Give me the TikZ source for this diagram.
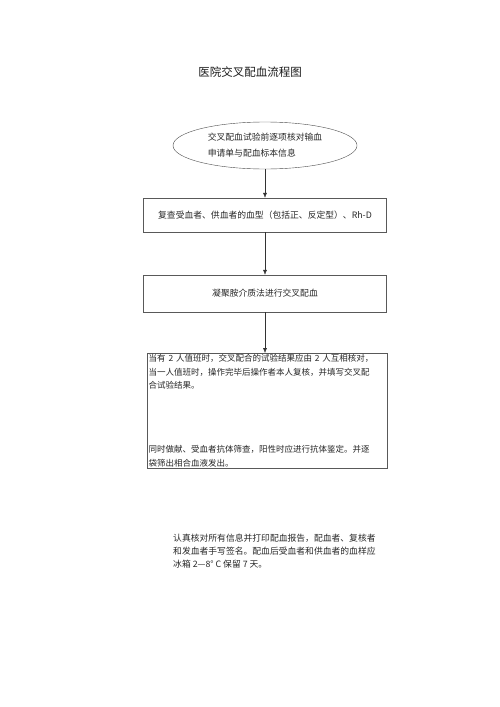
\documentclass[tikz,border=0pt]{standalone}
\usepackage{fontspec}
\newfontfamily\cjk{Noto Sans CJK SC}
\usetikzlibrary{shapes.geometric,arrows.meta}

\begin{document}
\begin{tikzpicture}[x=1pt,y=-1pt,
  box/.style={draw=black!65,rectangle,minimum width=243pt,inner sep=1.5pt},
  txt/.style={font=\cjk\fontsize{8.8}{13.5}\selectfont,text=black!85},
  arr/.style={-{Latex[length=5pt,width=4pt]},black!80}]
  \useasboundingbox (0,0) rectangle (500,707);
  \node[font=\cjk\fontsize{11.5}{14}\selectfont,text=black!90] (title) at (250,72) {医院交叉配血流程图};
  \node[draw=black!70,ellipse,minimum width=184pt,minimum height=47pt,inner sep=0pt,
    txt,font=\cjk\fontsize{8.8}{16}\selectfont,align=left] (check) at (265,145.5)
    {交叉配血试验前逐项核对输血\\申请单与配血标本信息};
  \node[box,txt,minimum height=34pt] (retype) at (265,215)
    {复查受血者、供血者的血型（包括正、反定型）、Rh-D};
  \node[box,txt,minimum height=37pt] (polyb) at (265,293.5)
    {凝聚胺介质法进行交叉配血};
  \node[box,txt,font=\cjk\fontsize{8.5}{13.3}\selectfont,minimum width=0pt,text width=237pt,
    align=left,anchor=north west] (result) at (147,353)
    {当有 2 人值班时，交叉配合的试验结果应由 2 人互相核对，\\
     当一人值班时，操作完毕后操作者本人复核，并填写交叉配\\
     合试验结果。\\[51pt]
     同时做献、受血者抗体筛查，阳性时应进行抗体鉴定。并逐\\
     袋筛出相合血液发出。};
  \node[txt,font=\cjk\fontsize{8.8}{13}\selectfont,align=left,anchor=north west,inner sep=0pt] (sign) at (173,534)
    {认真核对所有信息并打印配血报告，配血者、复核者\\
     和发血者手写签名。配血后受血者和供血者的血样应\\
     冰箱 2—8° C 保留 7 天。};
  \draw[arr] (check.south) -- (retype.north);
  \draw[arr] (retype.south) -- (polyb.north);
  \draw[arr] (polyb.south) -- (polyb.south |- result.north);
\end{tikzpicture}
\end{document}
